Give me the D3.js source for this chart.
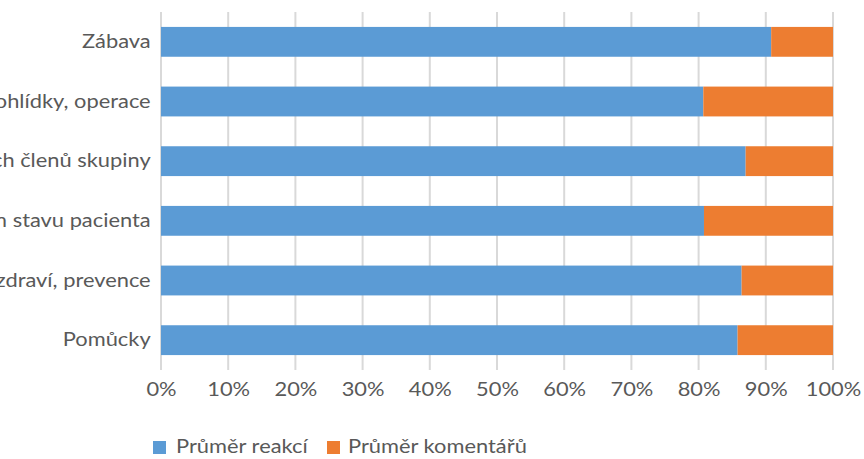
<!DOCTYPE html>
<html><head><meta charset="utf-8">
<script src="https://cdn.jsdelivr.net/npm/d3@7"></script>
<style>body{margin:0;background:#fff}svg{display:block}</style>
</head><body>
<svg id="c" width="864" height="459"></svg>
<script>
const categories = ["Zábava","Prohlídky, operace","Představení nových členů skupiny","Informace o zdravotním stavu pacienta","Péče o zdraví, prevence","Pomůcky"];
const reakce = [90.8, 80.7, 87.0, 80.8, 86.4, 85.8];
const komentare = [9.2, 19.3, 13.0, 19.2, 13.6, 14.2];
const seriesNames = ["Průměr reakcí","Průměr komentářů"];
const colors = ["#5b9bd5","#ed7d31"];
const tickValues = [0,0.1,0.2,0.3,0.4,0.5,0.6,0.7,0.8,0.9,1.0];

const svg = d3.select("#c");
const font = "Lato, 'Open Sans', sans-serif";
const fs = "19px", sx = 1.15;
const L = 161, R = 833, T = 12, B = 370;
const x = d3.scaleLinear().domain([0,1]).range([L,R]);
const y = d3.scaleBand().domain(categories).range([T,B]).paddingInner(0.5).paddingOuter(0.25);

// gridlines
svg.append("g").selectAll("line").data(tickValues).join("line")
  .attr("x1",d=>x(d)).attr("x2",d=>x(d)).attr("y1",T).attr("y2",B)
  .attr("stroke","#d9d9d9").attr("stroke-width",2);

const rows = categories.map((c,i)=>{const t=reakce[i]+komentare[i];return {c, a:reakce[i]/t, b:komentare[i]/t};});
const g = svg.append("g");
g.selectAll("rect.a").data(rows).join("rect").attr("class","a")
  .attr("x",x(0)).attr("y",d=>y(d.c)).attr("width",d=>x(d.a)-x(0)).attr("height",y.bandwidth()).attr("fill",colors[0]);
g.selectAll("rect.b").data(rows).join("rect").attr("class","b")
  .attr("x",d=>x(d.a)).attr("y",d=>y(d.c)).attr("width",d=>x(1)-x(d.a)).attr("height",y.bandwidth()).attr("fill",colors[1]);

// y labels
const ya = svg.append("g").attr("transform",`translate(${L},0)`).call(d3.axisLeft(y).tickSize(0).tickPadding(9));
ya.select(".domain").remove();
ya.selectAll("text").attr("fill","#595959").style("font-family",font).style("font-size",fs).attr("transform",`scale(${sx},1)`);

// x labels
const xa = svg.append("g").attr("transform",`translate(0,${B})`).call(d3.axisBottom(x).tickValues(tickValues).tickSize(0).tickPadding(13).tickFormat(d3.format(".0%")));
xa.select(".domain").remove();
xa.selectAll("text").attr("fill","#595959").style("font-family",font).style("font-size",fs).attr("transform",`scale(${sx},1)`);

// legend
const lg = svg.append("g").attr("transform","translate(153,441)");
const sqx = [0,174], txx = [23,195];
seriesNames.forEach((n,i)=>{
  lg.append("rect").attr("x",sqx[i]).attr("y",0).attr("width",13).attr("height",13).attr("fill",colors[i]);
  lg.append("g").attr("transform",`translate(${txx[i]},11.5)`)
    .append("text").attr("transform",`scale(${sx},1)`).attr("fill","#595959").style("font-family",font).style("font-size",fs).text(n);
});
</script>
</body></html>
